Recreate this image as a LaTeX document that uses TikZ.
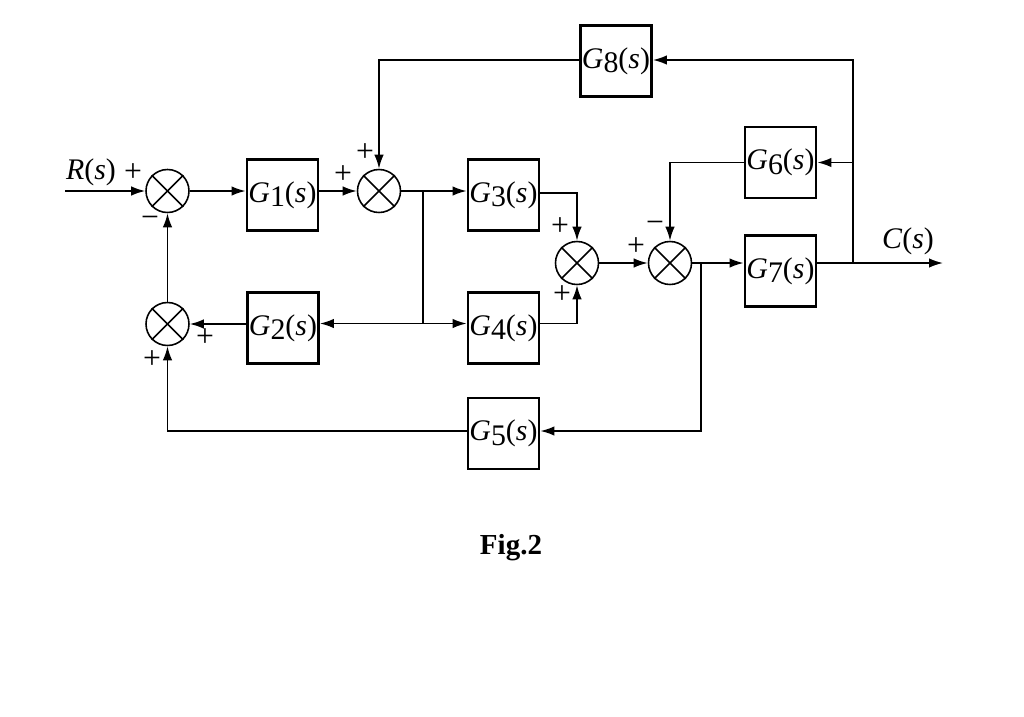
\documentclass[tikz,border=0pt]{standalone}
\usepackage{fontspec}
\setmainfont{Liberation Serif}
\usetikzlibrary{arrows.meta}

\newcommand{\tfG}[1]{\textit{G}\raisebox{-0.35ex}{#1}(\textit{s})}
\newcommand{\sgn}[1]{{\fontsize{18}{20}\selectfont #1}}

\tikzset{
  block/.style={draw, line width=1.6pt, minimum size=1.42cm, inner sep=0pt,
    font=\fontsize{17}{20}\selectfont},
  sumjn/.style={draw, circle, line width=0.9pt, minimum size=0.86cm, inner sep=0pt},
  sig/.style={line width=0.95pt, -{Latex[length=2.8mm,width=1.9mm]}},
  wire/.style={line width=0.95pt}
}

\begin{document}
\begin{tikzpicture}
            \useasboundingbox (0, 0) rectangle (20.48, -14.34);

            % summing points
            \node[sumjn] at(3.35, -3.82)(S1){};
            \node[sumjn] at(7.58, -3.82)(S2){};
            \node[sumjn] at(11.54, -5.26)(S3){};
            \node[sumjn] at(13.40, -5.26)(S4){};
            \node[sumjn] at(3.35, -6.48)(S5){};
            \foreach \s in {S1, S2, S3, S4, S5}{
                \draw[wire](\s.north east) -- (\s.south west);
                \draw[wire](\s.north west) -- (\s.south east);
            }

            % blocks
            \node[block] at(5.65, -3.90)(G1){\tfG{1}};
            \node[block] at(5.66, -6.56)(G2){\tfG{2}};
            \node[block] at(10.07, -3.90)(G3){\tfG{3}};
            \node[block] at(10.07, -6.56)(G4){\tfG{4}};
            \node[block] at(10.07, -8.67)(G5){\tfG{5}};
            \node[block] at(15.61, -3.25)(G6){\tfG{6}};
            \node[block] at(15.61, -5.42)(G7){\tfG{7}};
            \node[block] at(12.32, -1.22)(G8){\tfG{8}};

            % branch points and ends
            \coordinate (in) at(1.30, -3.82);
            \coordinate (b1) at(8.46, -3.82);
            \coordinate (b2) at(8.46, -6.47);
            \coordinate (b3) at(14.02, -5.26);
            \coordinate (b4) at(14.02, -8.62);
            \coordinate (b5) at(17.06, -5.26);
            \coordinate (b6) at(17.06, -1.20);
            \coordinate (b7) at(17.06, -3.25);
            \coordinate (out) at(18.86, -5.26);

            % forward path
            \draw[sig](in) -- (S1);
            \draw[sig](S1) -- (S1 -| G1.west);
            \draw[sig](G1.east |- S2) -- (S2);
            \draw[sig](S2) -- (S2 -| G3.west);
            \draw[wire](b1) -- (b2);
            \draw[sig](b2) -- (b2 -| G4.west);
            \draw[sig](b2) -- (b2 -| G2.east);
            \draw[sig](G3.east |- 0, -3.86) -| (S3.north);
            \draw[sig](G4.east |- b2) -| (S3.south);
            \draw[sig](S3) -- (S4);
            \draw[sig](S4) -- (S4 -| G7.west);
            \draw[sig](G7.east |- S4) -- (out);

            % feedback paths
            \draw[sig](G2.west |- S5) -- (S5);
            \draw[sig](S5) -- (S1);
            \draw[sig](b3) -- (b4) -- (b4 -| G5.east);
            \draw[sig](G5.west |- b4) -| (S5.south);
            \draw[sig](b5) -- (b6) -- (b6 -| G8.east);
            \draw[sig](b7) -- (G6.east);
            \draw[sig](G8.west |- b6) -| (S2.north);
            \draw[sig](G6.west) -| (S4.north);

            % signs
            \node at(2.66, -3.46)(p1){\sgn{+}};
            \node at(3.00, -4.44)(m1){\sgn{−}};
            \node at(6.86, -3.50)(p2){\sgn{+}};
            \node at(7.30, -3.06)(p3){\sgn{+}};
            \node at(11.20, -4.54)(p4){\sgn{+}};
            \node at(11.24, -5.90)(p5){\sgn{+}};
            \node at(12.72, -4.94)(p6){\sgn{+}};
            \node at(13.10, -4.54)(m2){\sgn{−}};
            \node at(4.10, -6.76)(p7){\sgn{+}};
            \node at(3.04, -7.20)(p8){\sgn{+}};

            % labels
            \node at(1.82, -3.44)(R){\fontsize{17}{20}\selectfont\textit{R}(\textit{s})};
            \node at(18.16, -4.82)(C){\fontsize{17}{20}\selectfont\textit{C}(\textit{s})};
            \node at(10.22, -10.96)(fig){\fontsize{16.5}{20}\selectfont\textbf{Fig.2}};
\end{tikzpicture}
\end{document}
